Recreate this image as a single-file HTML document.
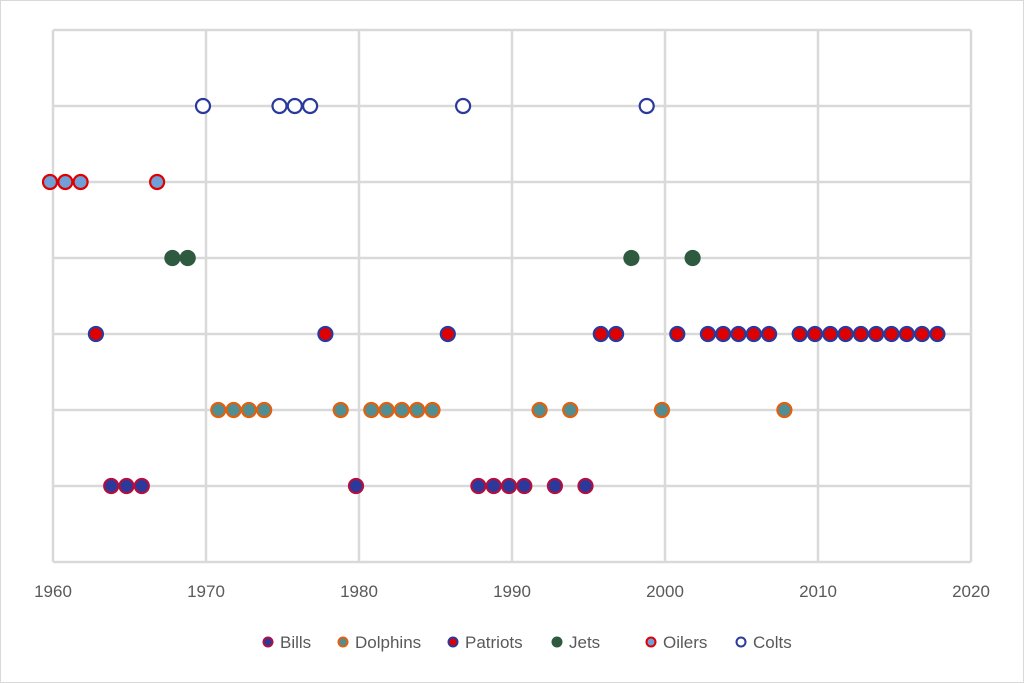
<!DOCTYPE html>
<html><head><meta charset="utf-8"><style>
body{margin:0;background:#fff;}
svg{display:block;font-family:"Liberation Sans",sans-serif;}
</style></head><body>
<svg id="chart" width="1024" height="683" viewBox="0 0 1024 683">
<rect x="0.5" y="0.5" width="1023" height="682" fill="#fff" stroke="#d9d9d9"/>
<g id="grid"></g><g id="marks" transform="translate(-3,0)"></g><g id="xt"></g><g id="legend"></g>
</svg>
<script>
const xTicks=[1960,1970,1980,1990,2000,2010,2020];
const teams=["Bills","Dolphins","Patriots","Jets","Oilers","Colts"];
const rows=[1,2,3,4,5,6];
const billsYears=[1964,1965,1966,1980,1988,1989,1990,1991,1993,1995];
const dolphinsYears=[1971,1972,1973,1974,1979,1981,1982,1983,1984,1985,1992,1994,2000,2008];
const patriotsYears=[1963,1978,1986,1996,1997,2001,2003,2004,2005,2006,2007,2009,2010,2011,2012,2013,2014,2015,2016,2017,2018];
const jetsYears=[1968,1969,1998,2002];
const oilersYears=[1960,1961,1962,1967];
const coltsYears=[1970,1975,1976,1977,1987,1999];
const series=[billsYears,dolphinsYears,patriotsYears,jetsYears,oilersYears,coltsYears];
const fills=["#2a3a9c","#4f8f93","#e00000","#2e5a40","#6fa0d8","#ffffff"];
const strokes=["#b01040","#e06010","#2a3a9c","#2e5a40","#e00000","#2a3a9c"];
const NS="http://www.w3.org/2000/svg";
const X0=53,X1=971,Y0=562,Y1=30;
const x=v=>X0+(v-1960)/(2020-1960)*(X1-X0);
const y=v=>Y0-(v-0)/7*(Y0-Y1);
function mk(t,a,p){const e=document.createElementNS(NS,t);for(const k in a)e.setAttribute(k,a[k]);p.appendChild(e);return e;}
const grid=document.getElementById('grid');
for(let i=0;i<=7;i++){const l=mk('line',{x1:X0,x2:X1,y1:y(i),y2:y(i),stroke:'#d9d9d9','stroke-width':2.5},grid);

}
xTicks.forEach(t=>{const l=mk('line',{x1:x(t),x2:x(t),y1:Y1,y2:Y0,stroke:'#d9d9d9','stroke-width':2.5},grid);


const tx=mk('text',{x:x(t),y:597,'text-anchor':'middle','font-size':17,fill:'#595959'},document.getElementById('xt'));
tx.textContent=t;

});
const marks=document.getElementById('marks');
series.forEach((ys,i)=>ys.forEach(yr=>{const c=mk('circle',{cx:x(yr),cy:y(rows[i]),r:7,fill:fills[i],stroke:strokes[i],'stroke-width':2.2},marks);

}));
const lg=document.getElementById('legend');
const lx=[268,343,453,557,651,741];
teams.forEach((t,i)=>{const g=mk('g',{},lg);


mk('circle',{cx:lx[i],cy:642,r:4.5,fill:fills[i],stroke:strokes[i],'stroke-width':2},g);
const tx=mk('text',{x:lx[i]+12,y:648,'font-size':17,fill:'#595959'},g);tx.textContent=t;});
</script>
</body></html>
